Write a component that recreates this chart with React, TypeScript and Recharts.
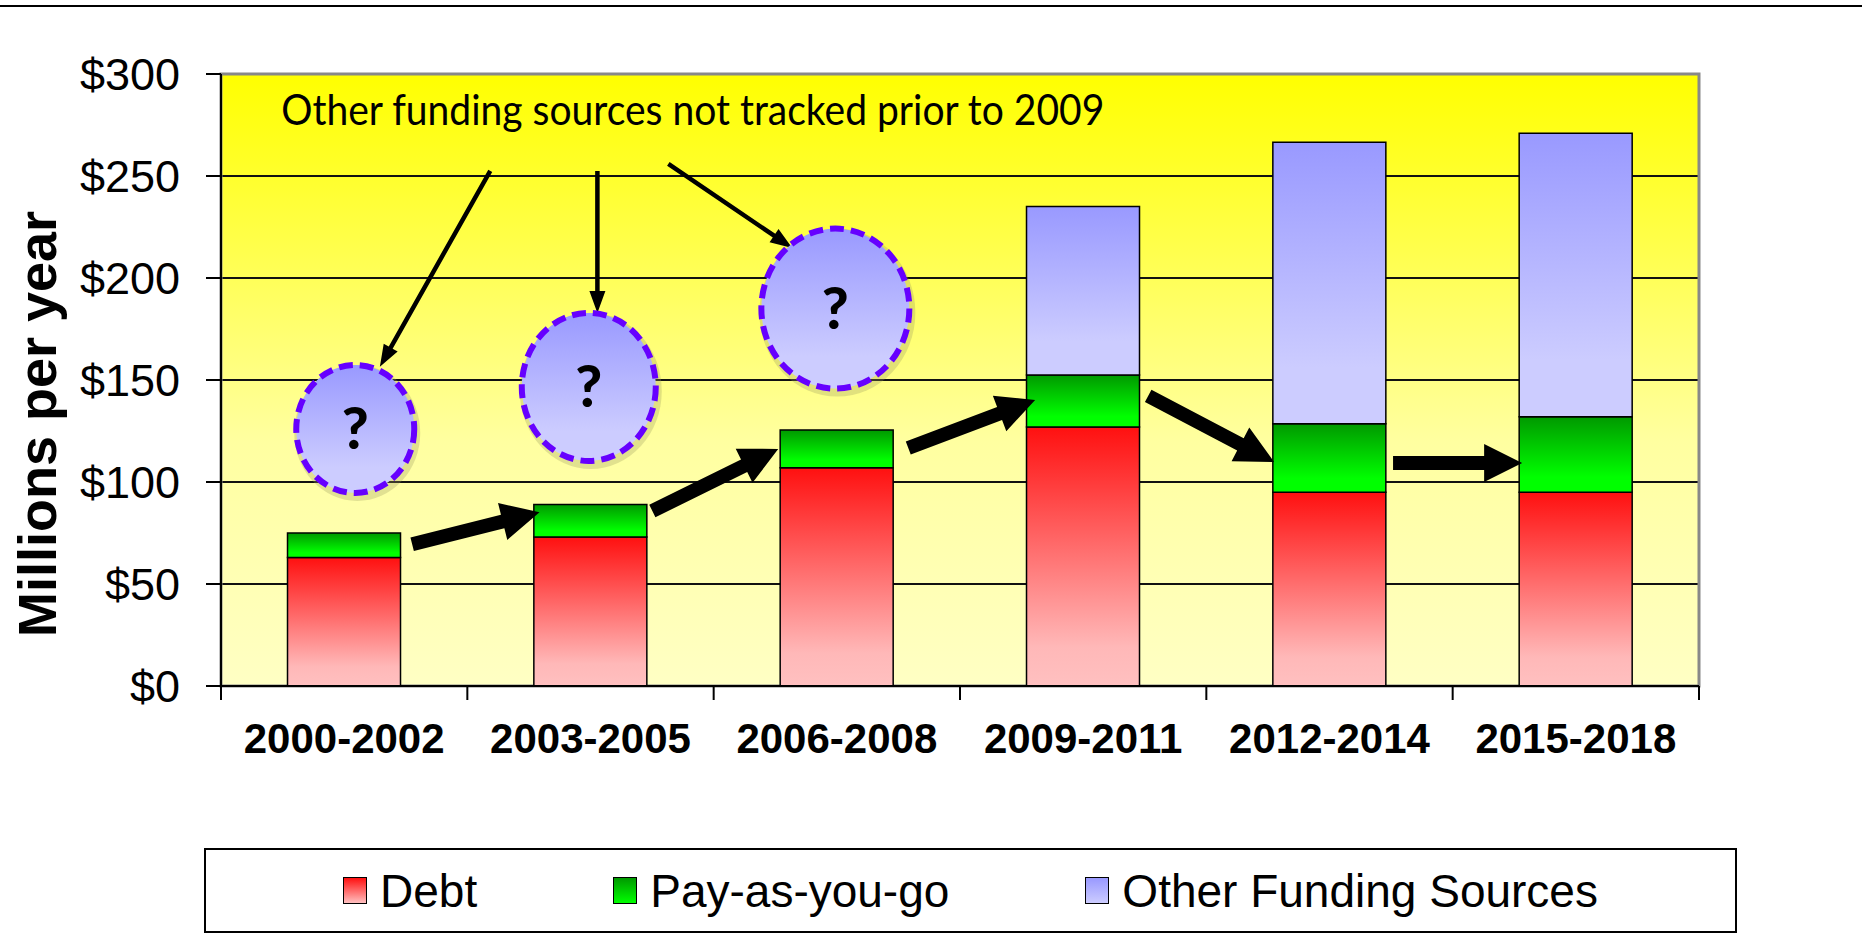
import React from 'react';
import {
  BarChart,
  Bar,
  XAxis,
  YAxis,
  CartesianGrid,
  Legend,
  ReferenceLine,
  ReferenceDot,
  ReferenceArea,
} from 'recharts';

// funding per year, $ millions
const periods = ['2000-2002', '2003-2005', '2006-2008', '2009-2011', '2012-2014', '2015-2018'];
const debt = [63, 73, 107, 127, 95, 95];
const payAsYouGo = [12, 16, 18.5, 25.5, 33.5, 37];
const otherFunding = [0, 0, 0, 82.5, 138, 139];
const yTicks = [0, 50, 100, 150, 200, 250, 300];
const slotEdges = [0, 1, 2, 3, 4, 5, 6];

const data = periods.map((period, i) => ({
  period,
  slot: i + 0.5,
  debt: debt[i],
  payg: payAsYouGo[i],
  other: otherFunding[i],
}));

// annotations, in axis units (x = category slot 0..6, y = $ millions)
const bubbles = [
  { x: 0.545, y: 126, rx: 59, ry: 64 },
  { x: 1.493, y: 146.6, rx: 67, ry: 74 },
  { x: 2.494, y: 185, rx: 74, ry: 80 },
];
const pointers = [
  [{ x: 1.093, y: 252.5 }, { x: 0.645, y: 156.5 }],
  [{ x: 1.528, y: 252.5 }, { x: 1.528, y: 182.8 }],
  [{ x: 1.816, y: 255.9 }, { x: 2.319, y: 214.7 }],
];
const trends = [
  [{ x: 0.776, y: 69.5 }, { x: 1.293, y: 85.2 }],
  [{ x: 1.751, y: 85.8 }, { x: 2.262, y: 116.2 }],
  [{ x: 2.79, y: 116.7 }, { x: 3.305, y: 140.2 }],
  [{ x: 3.764, y: 142.2 }, { x: 4.275, y: 109.8 }],
  [{ x: 4.758, y: 109.3 }, { x: 5.282, y: 109.3 }],
];

const arrow = (shaft: number, headW: number, headL: number) => (p: any) => {
  const { x1, y1, x2, y2 } = p;
  const len = Math.hypot(x2 - x1, y2 - y1);
  const ux = (x2 - x1) / len;
  const uy = (y2 - y1) / len;
  const nx = -uy;
  const ny = ux;
  const bx = x2 - ux * headL;
  const by = y2 - uy * headL;
  const pts = [
    [x1 + (nx * shaft) / 2, y1 + (ny * shaft) / 2],
    [bx + (nx * shaft) / 2, by + (ny * shaft) / 2],
    [bx + (nx * headW) / 2, by + (ny * headW) / 2],
    [x2, y2],
    [bx - (nx * headW) / 2, by - (ny * headW) / 2],
    [bx - (nx * shaft) / 2, by - (ny * shaft) / 2],
    [x1 - (nx * shaft) / 2, y1 - (ny * shaft) / 2],
  ];
  return <polygon points={pts.map((q) => q.join(',')).join(' ')} fill="#000" />;
};

const bubble = (rx: number, ry: number) => (p: any) => (
  <g>
    <ellipse cx={p.cx + 2} cy={p.cy + 4} rx={rx + 4} ry={ry + 4} fill="#9a9a60" opacity={0.3} />
    <ellipse
      cx={p.cx}
      cy={p.cy}
      rx={rx}
      ry={ry}
      fill="url(#gOther)"
      stroke="#6600ff"
      strokeWidth={6}
      strokeDasharray="14 7"
    />
    <text
      x={p.cx}
      y={p.cy + 20}
      textAnchor="middle"
      fontFamily="Lato, 'Open Sans', sans-serif"
      fontWeight={900}
      fontSize={58}
      fill="#000"
    >
      ?
    </text>
  </g>
);

const noteText = (p: any) => (
  <text
    x={p.cx}
    y={p.cy}
    fontFamily="Lato, 'Open Sans', sans-serif"
    fontSize={42}
    fill="#000"
    textLength={823}
    lengthAdjust="spacingAndGlyphs"
  >
    Other funding sources not tracked prior to 2009
  </text>
);

const legendItems = [
  { name: 'Debt', bg: 'linear-gradient(#ff1010, #ffc0c0)' },
  { name: 'Pay-as-you-go', bg: 'linear-gradient(#009900, #00ff00)' },
  { name: 'Other Funding Sources', bg: 'linear-gradient(#9999ff, #ccccff)' },
];

const renderLegend = () => (
  <div
    style={{
      boxSizing: 'border-box',
      height: 85,
      border: '2px solid #000',
      background: '#fff',
      display: 'flex',
      alignItems: 'center',
      justifyContent: 'center',
      gap: 136,
      fontFamily: "'Liberation Sans', Arial, sans-serif",
      fontSize: 46,
      color: '#000',
    }}
  >
    {legendItems.map((it) => (
      <div key={it.name} style={{ display: 'flex', alignItems: 'center' }}>
        <span
          style={{
            display: 'inline-block',
            boxSizing: 'border-box',
            width: 24,
            height: 27,
            border: '1.5px solid #000',
            background: it.bg,
            marginRight: 13,
          }}
        />
        <span>{it.name}</span>
      </div>
    ))}
  </div>
);

export default function App() {
  return (
    <div style={{ position: 'absolute', left: 0, top: 0, width: 1862, height: 947, background: '#fff' }}>
      <div style={{ position: 'absolute', left: 0, top: 5, width: 1862, height: 2, background: '#000' }} />
      <BarChart
        width={1862}
        height={947}
        data={data}
        margin={{ top: 74, right: 163, bottom: 14, left: 0 }}
        barCategoryGap="27%"
      >
        <defs>
          <linearGradient id="gPlot" x1="0" y1="0" x2="0" y2="1">
            <stop offset="0" stopColor="#ffff00" />
            <stop offset="0.6" stopColor="#ffffa0" />
            <stop offset="1" stopColor="#ffffc4" />
          </linearGradient>
          <linearGradient id="gDebt" x1="0" y1="0" x2="0" y2="1">
            <stop offset="0" stopColor="#ff1010" />
            <stop offset="0.85" stopColor="#ffb8b8" />
            <stop offset="1" stopColor="#ffc0c0" />
          </linearGradient>
          <linearGradient id="gPayg" x1="0" y1="0" x2="0" y2="1">
            <stop offset="0" stopColor="#009900" />
            <stop offset="0.8" stopColor="#00ff00" />
            <stop offset="1" stopColor="#00ff00" />
          </linearGradient>
          <linearGradient id="gOther" x1="0" y1="0" x2="0" y2="1">
            <stop offset="0" stopColor="#9999ff" />
            <stop offset="0.8" stopColor="#ccccff" />
            <stop offset="1" stopColor="#ccccff" />
          </linearGradient>
        </defs>
        <CartesianGrid
          vertical={false}
          fill="url(#gPlot)"
          fillOpacity={1}
          stroke="#111"
          strokeWidth={2}
          horizontalValues={[50, 100, 150, 200, 250]}
        />
        <ReferenceArea
          xAxisId="edges"
          x1={0}
          x2={6}
          y1={0}
          y2={300}
          fill="none"
          stroke="#888"
          strokeWidth={3}
        />
        <XAxis
          xAxisId="edges"
          dataKey="slot"
          type="number"
          domain={[0, 6]}
          ticks={slotEdges}
          interval={0}
          allowDataOverflow
          height={1}
          tick={() => <g />}
          tickSize={14}
          tickLine={{ stroke: '#000', strokeWidth: 2 }}
          axisLine={{ stroke: '#000', strokeWidth: 2 }}
        />
        <XAxis
          xAxisId="labels"
          dataKey="period"
          height={161}
          interval={0}
          tickLine={false}
          axisLine={false}
          tickSize={0}
          tickMargin={36}
          tick={{
            fill: '#000',
            fontSize: 42,
            fontWeight: 700,
            fontFamily: "'Liberation Sans', Arial, sans-serif",
          }}
        />
        <YAxis
          width={221}
          domain={[0, 300]}
          ticks={yTicks}
          interval={0}
          tickFormatter={(v: number) => `$${v}`}
          tickSize={15}
          tickMargin={26}
          tickLine={{ stroke: '#000', strokeWidth: 2 }}
          axisLine={{ stroke: '#000', strokeWidth: 2 }}
          tick={{ fill: '#000', fontSize: 45, fontFamily: "'Liberation Sans', Arial, sans-serif" }}
          label={{
            content: (p: any) => {
              const vb = p.viewBox;
              const x = vb.x + 56;
              const y = vb.y + vb.height / 2 + 44;
              return (
                <text
                  x={x}
                  y={y}
                  transform={`rotate(-90 ${x} ${y})`}
                  textAnchor="middle"
                  fontFamily="'Liberation Sans', Arial, sans-serif"
                  fontWeight={700}
                  fontSize={54}
                  fill="#000"
                >
                  Millions per year
                </text>
              );
            },
          }}
        />
        <Legend verticalAlign="bottom" content={renderLegend} wrapperStyle={{ left: 204, width: 1533 }} />
        <Bar xAxisId="labels" dataKey="debt" name="Debt" stackId="f" fill="url(#gDebt)" stroke="#000" strokeWidth={1.5} isAnimationActive={false} />
        <Bar xAxisId="labels" dataKey="payg" name="Pay-as-you-go" stackId="f" fill="url(#gPayg)" stroke="#000" strokeWidth={1.5} isAnimationActive={false} />
        <Bar xAxisId="labels" dataKey="other" name="Other Funding Sources" stackId="f" fill="url(#gOther)" stroke="#000" strokeWidth={1.5} isAnimationActive={false} />
        {trends.map((seg, i) => (
          <ReferenceLine key={`t${i}`} xAxisId="edges" segment={seg} shape={arrow(14, 38, 38)} />
        ))}
        {pointers.map((seg, i) => (
          <ReferenceLine key={`p${i}`} xAxisId="edges" segment={seg} shape={arrow(4.5, 16, 22)} />
        ))}
        {bubbles.map((b, i) => (
          <ReferenceDot key={`b${i}`} xAxisId="edges" x={b.x} y={b.y} r={1} shape={bubble(b.rx, b.ry)} />
        ))}
        <ReferenceDot xAxisId="edges" x={0.245} y={275} r={1} shape={noteText} />
      </BarChart>
    </div>
  );
}
